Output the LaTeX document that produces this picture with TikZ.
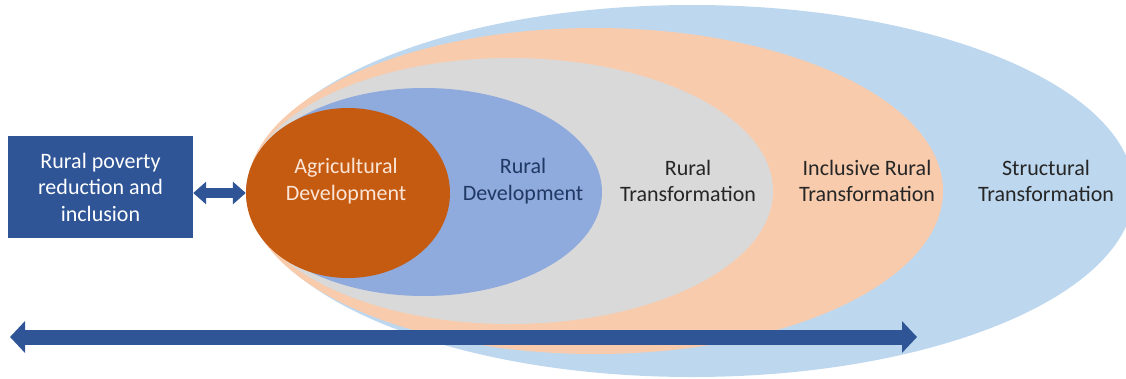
\documentclass[tikz,border=0pt]{standalone}
\usepackage{fontspec}
\setmainfont{Carlito}
\usetikzlibrary{arrows.meta,shapes.geometric}

\definecolor{structblue}{HTML}{BDD7EE}
\definecolor{inclpeach}{HTML}{F8CBAD}
\definecolor{ruralgrey}{HTML}{D9D9D9}
\definecolor{devblue}{HTML}{8FAADC}
\definecolor{agriorange}{HTML}{C55A11}
\definecolor{agrilight}{HTML}{FBE5D6}
\definecolor{darkblue}{HTML}{2F5597}
\definecolor{navytext}{HTML}{1F3864}
\definecolor{labelgrey}{HTML}{262626}

\begin{document}
\begin{tikzpicture}[x=1pt,y=-1pt,
  ring/.style={ellipse,inner sep=0pt,draw=none},
  lbl/.style={align=center,inner sep=0pt,text=labelgrey,
    font=\fontsize{22}{26.5}\selectfont},
  bigarrow/.style={darkblue,line width=15pt,
    {Triangle[length=15pt,width=31pt]}-{Triangle[length=15pt,width=31pt]}},
  smallarrow/.style={darkblue,line width=10pt,
    {Triangle[length=13pt,width=22pt]}-{Triangle[length=13pt,width=22pt]}}]
  \useasboundingbox (0,0) rectangle (1126,378);
  % The nested ellipses, outermost first
  \foreach \nm/\cx/\cy/\wd/\ht/\col in {struct/692/191/884/372/structblue,
      incl/595/191/696/326/inclpeach,
      rural/510/191/526/266/ruralgrey,
      dev/424/192/356/208/devblue,
      agri/348/193/204/170/agriorange}
    \node[ring,fill=\col,minimum width=\wd,minimum height=\ht] (\nm) at (\cx,\cy) {};
  % The labels
  \node[lbl,text=agrilight] (agrilbl) at (346,181) {Agricultural\\Development};
  \node[lbl,text=navytext] (devlbl) at (523,181) {Rural\\Development};
  \node[lbl] (rurallbl) at (688,181) {Rural\\Transformation};
  \node[lbl] (incllbl) at (867,181) {Inclusive Rural\\Transformation};
  \node[lbl] (structlbl) at (1046,181) {Structural\\Transformation};
  % The box on the left
  \node[lbl,fill=darkblue,text=white,minimum width=185,minimum height=102]
    (povbox) at (100.5,187) {Rural poverty\\reduction and\\inclusion};
  % The arrows
  \draw[smallarrow] (povbox.east |- agri.west) -- (agri.west);
  \coordinate (arrL) at (10,337);
  \coordinate (arrR) at (917,337);
  \draw[bigarrow] (arrL) -- (arrR);
\end{tikzpicture}
\end{document}
